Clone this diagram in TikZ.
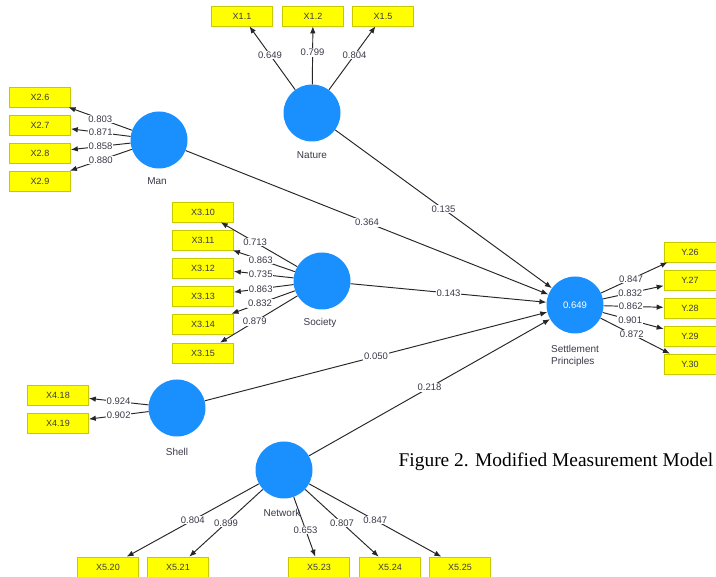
\documentclass[tikz,border=0pt]{standalone}
\usepackage{fontspec}
\setmainfont{Liberation Sans}
\newfontfamily\capfont{Liberation Serif}
\usetikzlibrary{arrows.meta}
\definecolor{plsblue}{HTML}{1A90FF}
\definecolor{boxyellow}{HTML}{FFFF00}
\definecolor{boxedge}{HTML}{C8C800}
\definecolor{txt}{HTML}{3A3A4A}
\definecolor{linec}{HTML}{262626}
\begin{document}
\begin{tikzpicture}[x=1pt,y=-1pt,
  lv/.style={circle,fill=plsblue,minimum size=57pt,inner sep=0pt,text=white,font=\fontsize{9.5}{11}\selectfont},
  mv/.style={rectangle,fill=boxyellow,draw=boxedge,line width=0.6pt,minimum width=61pt,minimum height=20pt,inner sep=0pt,text=txt,font=\fontsize{9}{10}\selectfont},
  mvy/.style={mv,minimum width=52pt},
  lvname/.style={text=txt,font=\fontsize{10}{11.5}\selectfont,inner sep=0pt},
  lbl/.style={fill=white,inner sep=0.8pt,text=txt,font=\fontsize{9.5}{10.5}\selectfont},
  arr/.style={draw=linec,line width=0.95pt,-{Latex[length=7pt,width=5.5pt]}}]
\useasboundingbox[fill=white] (0,0) rectangle (716,577);

% latent variables
\node[lv] (nat) at (312,113) {};
\node[lv] (man) at (159,140) {};
\node[lv] (soc) at (322,281) {};
\node[lv] (sp) at (575,305) {0.649};
\node[lv] (shell) at (177,408) {};
\node[lv] (net) at (284,470) {};

\node[lvname] (natl) at (312,155) {Nature};
\node[lvname] (manl) at (157,181) {Man};
\node[lvname] (socl) at (320,323) {Society};
\node[lvname,align=left] (spl) at (575,356) {Settlement\\Principles};
\node[lvname] (shelll) at (177,452) {Shell};

% indicators
\node[mv] (x11) at (242,16) {X1.1};
\node[mv] (x12) at (313,16) {X1.2};
\node[mv] (x15) at (383,16) {X1.5};

\node[mv] (x26) at (40,97) {X2.6};
\node[mv] (x27) at (40,125) {X2.7};
\node[mv] (x28) at (40,153) {X2.8};
\node[mv] (x29) at (40,181) {X2.9};

\node[mv] (x310) at (203,212) {X3.10};
\node[mv] (x311) at (203,240) {X3.11};
\node[mv] (x312) at (203,268) {X3.12};
\node[mv] (x313) at (203,296) {X3.13};
\node[mv] (x314) at (203,324) {X3.14};
\node[mv] (x315) at (203,353) {X3.15};

\node[mv] (x418) at (58,395) {X4.18};
\node[mv] (x419) at (58,423) {X4.19};

\node[mv] (x520) at (108,567) {X5.20};
\node[mv] (x521) at (178,567) {X5.21};
\node[mv] (x523) at (319,567) {X5.23};
\node[mv] (x524) at (390,567) {X5.24};
\node[mv] (x525) at (460,567) {X5.25};

\node[mvy] (y26) at (690,252) {Y.26};
\node[mvy] (y27) at (690,280) {Y.27};
\node[mvy] (y28) at (690,308) {Y.28};
\node[mvy] (y29) at (690,336) {Y.29};
\node[mvy] (y30) at (690,364) {Y.30};

% outer loadings
\draw[arr] (nat) -- node[lbl,pos=0.55] {0.649} (x11);
\draw[arr] (nat) -- node[lbl,pos=0.55] {0.799} (x12);
\draw[arr] (nat) -- node[lbl,pos=0.55] {0.804} (x15);

\draw[arr] (man) -- node[lbl] {0.803} (x26);
\draw[arr] (man) -- node[lbl] {0.871} (x27);
\draw[arr] (man) -- node[lbl] {0.858} (x28);
\draw[arr] (man) -- node[lbl] {0.880} (x29);

\draw[arr] (soc) -- node[lbl,pos=0.55] {0.713} (x310);
\draw[arr] (soc) -- node[lbl,pos=0.55] {0.863} (x311);
\draw[arr] (soc) -- node[lbl,pos=0.55] {0.735} (x312);
\draw[arr] (soc) -- node[lbl,pos=0.55] {0.863} (x313);
\draw[arr] (soc) -- node[lbl,pos=0.55] {0.832} (x314);
\draw[arr] (soc) -- node[lbl,pos=0.55] {0.879} (x315);

\draw[arr] (shell) -- node[lbl] {0.924} (x418);
\draw[arr] (shell) -- node[lbl] {0.902} (x419);

\draw[arr] (net) -- node[lbl] {0.804} (x520);
\draw[arr] (net) -- node[lbl] {0.899} (x521);
\draw[arr] (net) -- node[lbl,pos=0.55] {0.653} (x523);
\draw[arr] (net) -- node[lbl] {0.807} (x524);
\draw[arr] (net) -- node[lbl] {0.847} (x525);
\node[lvname,fill=none] (netl) at (282,513) {Network};

\draw[arr] (sp) -- node[lbl,pos=0.45] {0.847} (y26);
\draw[arr] (sp) -- node[lbl,pos=0.45] {0.832} (y27);
\draw[arr] (sp) -- node[lbl,pos=0.45] {0.862} (y28);
\draw[arr] (sp) -- node[lbl,pos=0.45] {0.901} (y29);
\draw[arr] (sp) -- node[lbl,pos=0.45] {0.872} (y30);

% path coefficients
\draw[arr] (nat) -- node[lbl] {0.135} (sp);
\draw[arr] (man) -- node[lbl] {0.364} (sp);
\draw[arr] (soc) -- node[lbl] {0.143} (sp);
\draw[arr] (shell) -- node[lbl] {0.050} (sp);
\draw[arr] (net) -- node[lbl] {0.218} (sp);

% caption
\node[inner sep=0pt,font=\capfont\fontsize{19.4}{22}\selectfont] (cap) at (556,462) {Figure 2. Modified Measurement Model};
\end{tikzpicture}
\end{document}
